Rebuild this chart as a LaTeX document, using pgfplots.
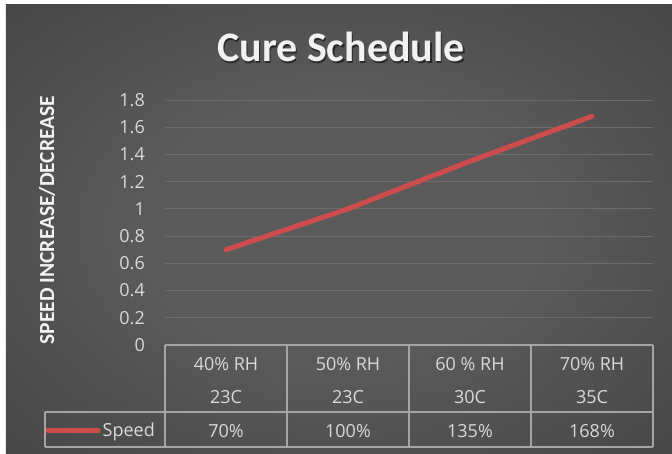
\documentclass[border=0pt]{standalone}
\usepackage{fontspec}
\setmainfont{Open Sans}
\newfontfamily\titlefont{Carlito}
\usepackage{pgfplots}
\pgfplotsset{compat=1.18}
\definecolor{bgin}{RGB}{90,90,90}
\definecolor{bgout}{RGB}{36,36,36}
\definecolor{linered}{RGB}{205,76,76}
\definecolor{gridgray}{RGB}{108,108,108}
\definecolor{tablegray}{RGB}{165,165,165}
\definecolor{ticktext}{RGB}{217,217,217}
\definecolor{titletext}{RGB}{242,242,242}
\pgfdeclareradialshading{bgshade}{\pgfpoint{0bp}{0bp}}{color(0bp)=(bgin); color(15bp)=(bgin); color(72bp)=(bgout)}
\begin{document}
\begin{tikzpicture}[x=1pt,y=1pt]
\fill[white] (-165,-108) rectangle (507,345);
\shade[shading=bgshade] (-159,-108) rectangle (507,340);
\begin{axis}[
  at={(0,0)}, anchor=south west,
  scale only axis, width=488pt, height=245pt,
  xmin=0, xmax=4, ymin=0, ymax=1.8,
  ytick={0,0.2,...,1.8},
  xtick={0.5,1.5,2.5,3.5},
  xticklabels={{40\% RH\\23C\\70\%},{50\% RH\\23C\\100\%},{60 \% RH\\30C\\135\%},{70\% RH\\35C\\168\%}},
  axis line style={draw=none},
  major tick length=0pt,
  ymajorgrids, grid style={gridgray, line width=0.9pt},
  /pgf/number format/assume math mode=true,
  yticklabel style={font=\fontsize{18}{22}\selectfont, text=ticktext, anchor=east, inner sep=0pt, xshift=-20pt},
  xticklabel style={font=\fontsize{18}{33.5}\selectfont, text=ticktext, anchor=north, inner sep=0pt, yshift=-12pt, align=center},
  clip=false,
  legend style={at={(rel axis cs:-0.0164,-0.347)}, anchor=east, draw=none, fill=none, font=\fontsize{18}{22}\selectfont, text=ticktext, inner sep=0pt},
  legend cell align=left,
  legend image code/.code={\draw[#1, line cap=round] (0pt,0pt) -- (50pt,0pt);},
]
\addplot[color=linered, line width=5pt, line cap=round, line join=round] coordinates {(0.5,0.7) (1.5,1.0) (2.5,1.35) (3.5,1.68)};
\addlegendentry{Speed}
\end{axis}
\begin{scope}[tablegray, line width=1.3pt]
\draw (0,0) -- (488,0);
\draw (-120,-67) -- (488,-67);
\draw (-120,-102) -- (488,-102);
\foreach \xx in {0,122,244,366,488} \draw (\xx,0) -- (\xx,-102);
\draw (-120,-67) -- (-120,-102);
\end{scope}
\node[text=black, opacity=0.5, font=\titlefont\bfseries\fontsize{42}{50}\selectfont] at (177.5,296.5) {Cure Schedule};
\node[text=titletext, font=\titlefont\bfseries\fontsize{42}{50}\selectfont] at (176,298) {Cure Schedule};
\node[rotate=90, text=titletext, font=\titlefont\bfseries\fontsize{21.5}{25}\selectfont] at (-118,125) {SPEED INCREASE/DECREASE};
\pgfresetboundingbox
\useasboundingbox (-165,-108) rectangle (507,345);
\end{tikzpicture}
\end{document}
